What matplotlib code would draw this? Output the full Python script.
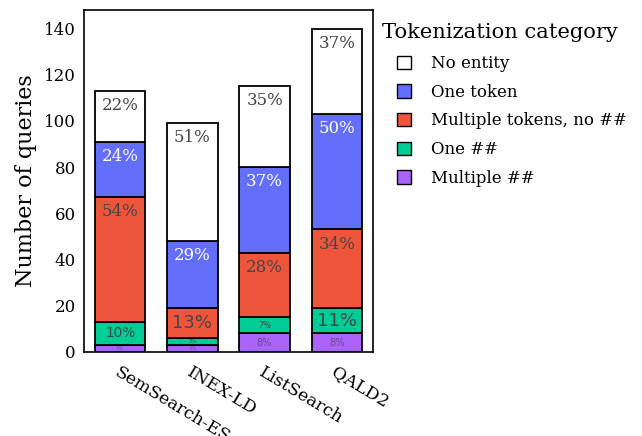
import matplotlib
matplotlib.use('Agg')
import matplotlib.pyplot as plt
from matplotlib.patches import Patch
from matplotlib.transforms import offset_copy

# query sets on the x axis
datasets = ['SemSearch-ES', 'INEX-LD', 'ListSearch', 'QALD2']

# number of queries per tokenization category (bottom to top)
multiple_hash = [3, 3, 8, 8]
one_hash = [10, 3, 7, 11]
multi_tokens = [54, 13, 28, 34]
one_token = [24, 29, 37, 50]
no_entity = [22, 51, 35, 37]

categories = ['No entity', 'One token', 'Multiple tokens, no ##', 'One ##', 'Multiple ##']

plt.rcParams['font.family'] = ['DejaVu Serif']

fig = plt.figure(figsize=(6.42, 4.36), dpi=100)
ax = fig.add_axes([0.131, 0.193, 0.45, 0.784])

stack = [multiple_hash, one_hash, multi_tokens, one_token, no_entity]
colors = ['#ab63fa', '#00cc96', '#ef553b', '#636efa', '#ffffff']
names = ['Multiple ##', 'One ##', 'Multiple tokens, no ##', 'One token', 'No entity']

x = list(range(len(datasets)))
bottom = [0] * len(datasets)
for vals, col in zip(stack, colors):
    ax.bar(x, vals, 0.7, bottom=bottom, color=col, edgecolor='black', linewidth=1.3, zorder=2)
    for i, v in enumerate(vals):
        tcol = 'white' if col == '#636efa' else '#444444'
        if col == '#ab63fa':
            tcol = '#6a4a8a'
        if v >= 20:
            tr = offset_copy(ax.transData, fig=fig, x=0, y=-4.5, units='points')
            ax.text(x[i], bottom[i] + v, '%d%%' % v, ha='center', va='top',
                    fontsize=12, color=tcol, transform=tr, zorder=3)
        else:
            if v >= 11:
                size = 13
            else:
                size = max(4, v * 1.3 - 3.2)
            ax.text(x[i], bottom[i] + v / 2, '%d%%' % v, ha='center', va='center',
                    fontsize=size, color=tcol, zorder=3, family='DejaVu Sans')
    bottom = [b + v for b, v in zip(bottom, vals)]

ax.set_xlim(-0.5, 3.5)
ax.set_ylim(0, 148)
ax.set_yticks(range(0, 141, 20))
ax.tick_params(axis='both', length=0)
ax.tick_params(axis='y', pad=6, labelsize=12)
ax.set_xticks(x)
ax.set_xticklabels(datasets, rotation=-31, ha='left', rotation_mode='anchor', fontsize=12.5)
for lab in ax.get_xticklabels():
    lab.set_y(-0.02)
for sp in ax.spines.values():
    sp.set_linewidth(1.2)
ax.set_ylabel('Number of queries', fontsize=16, labelpad=5)

fig.text(382 / 642, 1 - 32 / 436, 'Tokenization category', fontsize=15.1, va='center', ha='left')
handles = [Patch(facecolor=colors[names.index(c)], edgecolor='black', linewidth=1) for c in categories]
leg = fig.legend(handles, categories, loc='upper left', bbox_to_anchor=(397 / 642, 1 - 55 / 436),
                 frameon=False, fontsize=12, handlelength=0.85, handleheight=0.85,
                 handletextpad=1.2, labelspacing=0.7, borderpad=0, borderaxespad=0)

fig.savefig('out.png', dpi=100)
